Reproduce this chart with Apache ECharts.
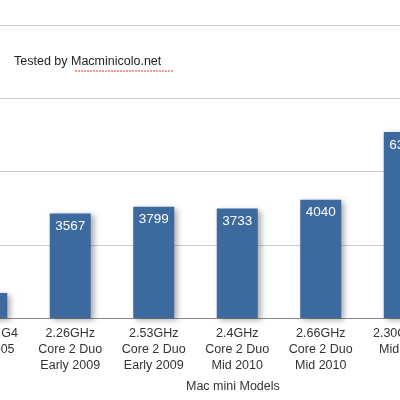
<!DOCTYPE html><html><head><meta charset="utf-8"><script src="https://cdn.jsdelivr.net/npm/echarts@6/dist/echarts.min.js"></script>
<style>html,body{margin:0;background:#fff;overflow:hidden}#c{width:400px;height:400px}</style></head><body><div id="c"></div><script>
const categories=["1.5GHz G4\nLate 2005","2.26GHz\nCore 2 Duo\nEarly 2009","2.53GHz\nCore 2 Duo\nEarly 2009","2.4GHz\nCore 2 Duo\nMid 2010","2.66GHz\nCore 2 Duo\nMid 2010","2.30GHz i5\nMid 2011"];
const values=[850,3567,3799,3733,4040,6350];
const yTicks=[0,2500,5000,7500,10000];
const ch=echarts.init(document.getElementById('c'));
ch.setOption({animation:false,
grid:{left:-55,width:501,top:25,height:293,containLabel:false,outerBoundsMode:'none'},
graphic:[{type:'text',left:14,top:55,style:{text:'Tested by Macminicolo.net',font:'12.5px Helvetica, Arial, sans-serif',fill:'#222'}},
{type:'line',shape:{x1:75,y1:71,x2:173,y2:71},style:{stroke:'#e33',lineWidth:1,lineDash:[2,1]}},
{type:'text',left:186,top:380,style:{text:'Mac mini Models',font:'12.5px Helvetica, Arial, sans-serif',fill:'#333'}}],
xAxis:{type:'category',data:categories,axisTick:{show:false},axisLine:{lineStyle:{color:'#888'}},
axisLabel:{color:'#333',fontSize:12.5,lineHeight:16,margin:8,interval:0,hideOverlap:false}},
yAxis:{type:'value',min:0,max:10000,interval:2500,axisLabel:{show:false},splitLine:{lineStyle:{color:'#ccc'}}},
series:[{type:'bar',data:values,barWidth:41,itemStyle:{color:'#3c699e',shadowBlur:6,shadowColor:'rgba(0,0,0,0.35)',shadowOffsetX:3,shadowOffsetY:2},
label:{show:true,position:'insideTop',color:'#fff',fontSize:13.5,distance:6}}]});
</script></body></html>
